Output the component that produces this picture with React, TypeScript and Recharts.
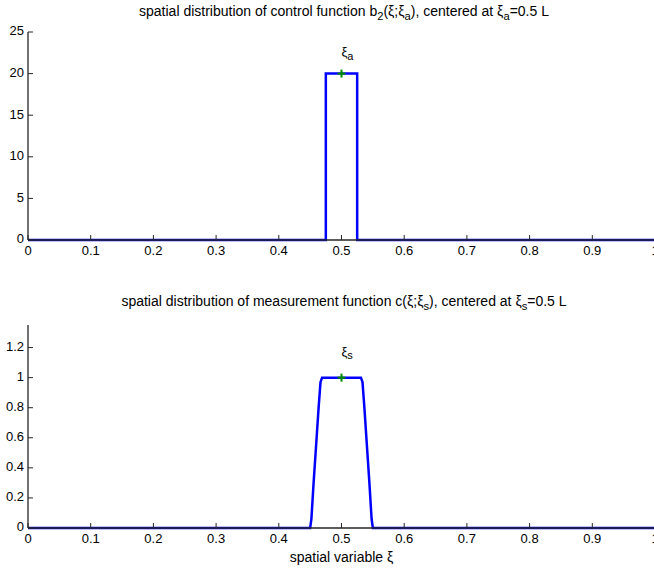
import React from 'react';
import { ComposedChart, Line, Scatter, XAxis, YAxis } from 'recharts';

// actuator shape b2(xi; xi_a)
const actX = [0, 0.475, 0.475, 0.525, 0.525, 1];
const actY = [0, 0, 20, 20, 0, 0];

// sensor shape c(xi; xi_s), smoothed trapezoid
const senX = [0, 0.45, 0.452, 0.4555, 0.4595, 0.4635, 0.4665, 0.469, 0.5, 0.531, 0.5335, 0.5365, 0.5405, 0.5445, 0.548, 0.55, 1];
const senY = [0, 0, 0.06, 0.3, 0.55, 0.8, 0.97, 1, 1, 1, 0.97, 0.8, 0.55, 0.3, 0.06, 0, 0];

const xTicks = [0, 0.1, 0.2, 0.3, 0.4, 0.5, 0.6, 0.7, 0.8, 0.9, 1];
const actTicks = [0, 5, 10, 15, 20, 25];
const senTicks = [0, 0.2, 0.4, 0.6, 0.8, 1, 1.2];

const actCenter = [{ x: 0.5, y: 20 }];
const senCenter = [{ x: 0.5, y: 1 }];
const actLabel = [{ x: 0.5, y: 22.5, sub: 'a' }];
const senLabel = [{ x: 0.5, y: 1.17, sub: 's' }];

const FONT = '"Liberation Sans", Arial, Helvetica, sans-serif';
const AX = '#262626';
const TICK = 5;

const rows = (xs: number[], ys: number[]) => xs.map((x, i) => ({ x, y: ys[i] }));

const BottomTick = (p: any) => (
  <g>
    <line x1={p.x} y1={p.y} x2={p.x} y2={p.y - TICK} stroke={AX} />
    <text x={p.x} y={p.y + 12} textAnchor="middle" dominantBaseline="middle" fontSize={13} fill="#000" fontFamily={FONT}>
      {String(p.payload.value)}
    </text>
  </g>
);
const TopTick = (p: any) => <line x1={p.x} y1={p.y} x2={p.x} y2={p.y + TICK} stroke={AX} />;
const LeftTick = (p: any) => (
  <g>
    <line x1={p.x} y1={p.y} x2={p.x + TICK} y2={p.y} stroke={AX} />
    <text x={p.x - 4} y={p.y} textAnchor="end" dominantBaseline="middle" fontSize={13} fill="#000" fontFamily={FONT}>
      {String(p.payload.value)}
    </text>
  </g>
);
const RightTick = (p: any) => <line x1={p.x} y1={p.y} x2={p.x - TICK} y2={p.y} stroke={AX} />;

const Plus = (p: any) => (
  <g stroke="#008a00" strokeWidth={2}>
    <line x1={p.cx - 4} y1={p.cy} x2={p.cx + 4} y2={p.cy} />
    <line x1={p.cx} y1={p.cy - 4} x2={p.cx} y2={p.cy + 4} />
  </g>
);
const XiLabel = (p: any) => (
  <text x={p.cx} y={p.cy} dominantBaseline="middle" fontSize={13} fill="#000" fontFamily={FONT}>
    ξ<tspan dy={4} fontSize={11}>{p.payload.sub}</tspan>
  </text>
);

const Panel = ({ data, ticks, domain, center, label, axisH }: any) => (
  <ComposedChart width={660} height={270} data={data} margin={{ top: 32, right: 0, bottom: 0, left: 0 }}>
    <XAxis xAxisId="b" dataKey="x" type="number" domain={[0, 1]} ticks={xTicks} interval={0}
      tickSize={0} tickMargin={0} tickLine={false} tick={BottomTick} axisLine={{ stroke: AX, strokeWidth: 1.3 }} height={axisH} />
    <XAxis xAxisId="t" orientation="top" dataKey="x" type="number" domain={[0, 1]} ticks={xTicks} interval={0}
      tickSize={0} tickMargin={0} tickLine={false} tick={TopTick} axisLine={{ stroke: AX, strokeWidth: 1.3 }} height={0} />
    <YAxis yAxisId="l" type="number" domain={domain} ticks={ticks} interval={0} width={28}
      tickSize={0} tickMargin={0} tickLine={false} tick={LeftTick} axisLine={{ stroke: AX, strokeWidth: 1.3 }} />
    <YAxis yAxisId="r" orientation="right" type="number" domain={domain} ticks={ticks} interval={0} width={5}
      tickSize={0} tickMargin={0} tickLine={false} tick={RightTick} axisLine={{ stroke: AX, strokeWidth: 1.3 }} />
    <Line xAxisId="b" yAxisId="l" dataKey="y" type="linear" stroke="#0000ff" strokeWidth={2.5} dot={false} isAnimationActive={false} />
    <Scatter xAxisId="b" yAxisId="l" data={center} dataKey="y" shape={Plus} isAnimationActive={false} />
    <Scatter xAxisId="b" yAxisId="l" data={label} dataKey="y" shape={XiLabel} isAnimationActive={false} />
  </ComposedChart>
);

const titleStyle: React.CSSProperties = {
  position: 'absolute', left: 0, width: 688, textAlign: 'center', fontFamily: FONT, fontSize: 14, color: '#000', lineHeight: '15px',
};
const sub: React.CSSProperties = { fontSize: '0.8em', verticalAlign: '-0.4em', lineHeight: 0 };

export default function App() {
  return (
    <div style={{ position: 'absolute', left: 0, top: 0, width: 654, height: 570, overflow: 'hidden', background: '#fff' }}>
      <div style={{ ...titleStyle, top: 4 }}>
        spatial distribution of control function b<span style={sub}>2</span>(ξ;ξ<span style={sub}>a</span>), centered at ξ<span style={sub}>a</span>=0.5 L
      </div>
      <div style={{ position: 'absolute', left: 0, top: 0 }}>
        <Panel data={rows(actX, actY)} ticks={actTicks} domain={[0, 25]} center={actCenter} label={actLabel} axisH={30} />
      </div>
      <div style={{ ...titleStyle, top: 294 }}>
        spatial distribution of measurement function c(ξ;ξ<span style={sub}>s</span>), centered at ξ<span style={sub}>s</span>=0.5 L
      </div>
      <div style={{ position: 'absolute', left: 0, top: 293 }}>
        <Panel data={rows(senX, senY)} ticks={senTicks} domain={[0, 1.35]} center={senCenter} label={senLabel} axisH={35} />
      </div>
      <div style={{ position: 'absolute', left: 0, top: 550, width: 683, textAlign: 'center', fontFamily: FONT, fontSize: 14, lineHeight: '15px' }}>
        spatial variable ξ
      </div>
    </div>
  );
}
